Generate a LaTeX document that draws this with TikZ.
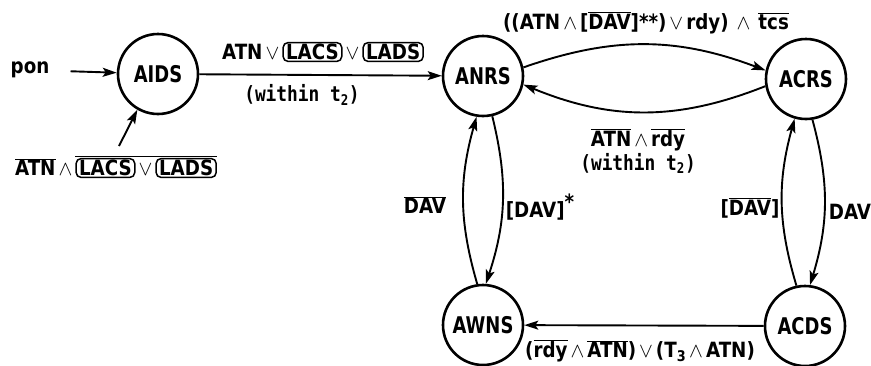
\documentclass[tikz,border=0pt]{standalone}
\usepackage{fontspec}
\setmainfont{DejaVu Sans}[FakeStretch=0.78]
\newfontfamily\monofont{DejaVu Sans Mono}[FakeStretch=0.85]
\usetikzlibrary{arrows.meta}
\newcommand{\ovl}[1]{$\overline{\mbox{#1}}$}
\newcommand{\rbx}[1]{\tikz[baseline=(rb.base)]\node[draw,rounded corners=5pt,line width=1.5pt,inner xsep=3pt,inner ysep=1.5pt](rb){#1};}
\newcommand{\aand}{\hspace{3pt}$\wedge$\hspace{3pt}}
\newcommand{\oor}{\hspace{3pt}$\vee$\hspace{3pt}}

\begin{document}
\begin{tikzpicture}[x=1pt,y=-1pt,
                stnode/.style={circle, draw, line width=2.6pt, minimum size=80pt, inner sep=0pt, font=\fontsize{23}{26}\selectfont\bfseries},
                lbl/.style={font=\fontsize{21}{24}\selectfont\bfseries\addfontfeature{FakeStretch=0.87}, inner sep=1pt},
                trans/.style={line width=1.9pt, -{Stealth[length=14pt,width=9pt,inset=3pt]}},
            ]
            \useasboundingbox (0,0) rectangle (871,365);

            % states
            \node[stnode] (AIDS) at (158,74) {AIDS};
            \node[stnode] (ANRS) at (483,76) {ANRS};
            \node[stnode] (ACRS) at (806,79) {ACRS};
            \node[stnode] (AWNS) at (483,325) {AWNS};
            \node[stnode] (ACDS) at (805,326) {ACDS};

            % inputs
            \node[lbl] (pon) at (30,70) {pon};
            \node[lbl] (insig) at (116,167) {\ovl{ATN}\aand\ovl{\rbx{LACS}\oor\rbx{LADS}}};
            \coordinate (insigtop) at (119,146);

            \draw[trans] (pon) -- (AIDS) [shorten <=20pt];
            \draw[trans] (insigtop) -- (AIDS.240);

            % AIDS -> ANRS
            \draw[trans] (AIDS) -- (ANRS);
            \node[lbl] (lbA) at (323,52) {ATN\oor\rbx{LACS}\oor\rbx{LADS}};
            \node[lbl] (lbB) at (302,95) {\monofont(within t\textsubscript{2})};

            % ANRS <-> ACRS
            \draw[trans] (ANRS.12) to[bend left=20] (ACRS.168);
            \draw[trans] (ACRS.190) to[bend left=22] (ANRS.-12);
            \node[lbl] (lbC) at (646,23) {((ATN\aand[\ovl{DAV}]**)\oor rdy)\hspace{5pt}\aand\hspace{5pt}\ovl{tcs}};
            \node[lbl, align=center] (lbD) at (638,151) {\ovl{ATN}\aand\ovl{rdy}\\\monofont(within t\textsubscript{2})};

            % ANRS <-> AWNS
            \draw[trans] (AWNS.98) to[bend left=16] (ANRS.261);
            \draw[trans] (ANRS.283) to[bend left=16] (AWNS.86);
            \node[lbl] (lbE) at (425,205) {\ovl{DAV}};
            \node[lbl] (lbF) at (540,207) {[DAV]\raisebox{8pt}{*}};

            % ACRS <-> ACDS
            \draw[trans] (ACDS.102) to[bend left=16] (ACRS.254);
            \draw[trans] (ACRS.279) to[bend left=16] (ACDS.83);
            \node[lbl] (lbG) at (750,208) {[\ovl{DAV}]};
            \node[lbl] (lbH) at (850,212) {DAV};

            % ACDS -> AWNS
            \draw[trans] (ACDS) -- (AWNS);
            \node[lbl] (lbI) at (640,351) {(\ovl{rdy}\aand\ovl{ATN})\oor(T\textsubscript{3}\aand ATN)};
        \end{tikzpicture}
\end{document}
